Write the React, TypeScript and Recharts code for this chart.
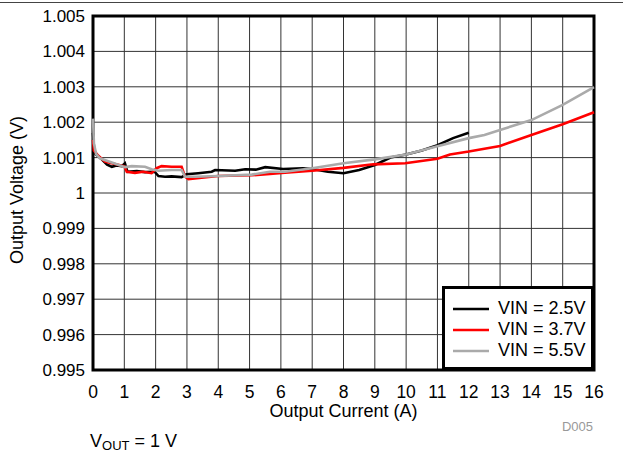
import React from "react";
import { LineChart, Line, XAxis, YAxis, CartesianGrid, ReferenceArea, Label } from "recharts";

const xTicks = [0, 1, 2, 3, 4, 5, 6, 7, 8, 9, 10, 11, 12, 13, 14, 15, 16];
const yTicks = [0.995, 0.996, 0.997, 0.998, 0.999, 1, 1.001, 1.002, 1.003, 1.004, 1.005];

const vin25 = [
  { x: 0, v: 1.0017 }, { x: 0.03, v: 1.0013 }, { x: 0.08, v: 1.0011 }, { x: 0.28, v: 1.00095 },
  { x: 0.45, v: 1.0008 }, { x: 0.6, v: 1.00074 }, { x: 0.75, v: 1.00078 }, { x: 0.92, v: 1.00076 },
  { x: 1.02, v: 1.00084 }, { x: 1.1, v: 1.0006 }, { x: 1.4, v: 1.00062 }, { x: 1.66, v: 1.00059 },
  { x: 1.97, v: 1.0006 }, { x: 2.09, v: 1.00048 }, { x: 2.3, v: 1.00046 }, { x: 2.51, v: 1.00047 },
  { x: 2.83, v: 1.00045 }, { x: 2.99, v: 1.00053 }, { x: 3.36, v: 1.00056 }, { x: 3.79, v: 1.0006 },
  { x: 3.9, v: 1.00065 }, { x: 4.54, v: 1.00063 }, { x: 4.86, v: 1.00067 }, { x: 5.2, v: 1.00066 },
  { x: 5.5, v: 1.00073 }, { x: 6.07, v: 1.00068 }, { x: 6.7, v: 1.0007 }, { x: 7.0, v: 1.00068 },
  { x: 7.5, v: 1.0006 }, { x: 8.0, v: 1.00056 }, { x: 8.5, v: 1.00065 }, { x: 9.0, v: 1.00079 },
  { x: 9.5, v: 1.001 }, { x: 10, v: 1.00109 }, { x: 10.5, v: 1.0012 }, { x: 11, v: 1.00135 },
  { x: 11.5, v: 1.00155 }, { x: 12, v: 1.0017 },
];

const vin37 = [
  { x: 0, v: 1.0015 }, { x: 0.03, v: 1.0012 }, { x: 0.17, v: 1.00105 }, { x: 0.38, v: 1.00089 },
  { x: 0.8, v: 1.0008 }, { x: 1.0, v: 1.00075 }, { x: 1.08, v: 1.0006 }, { x: 1.34, v: 1.00057 },
  { x: 1.6, v: 1.0006 }, { x: 1.87, v: 1.00056 }, { x: 2.03, v: 1.0007 }, { x: 2.19, v: 1.00076 },
  { x: 2.51, v: 1.00074 }, { x: 2.83, v: 1.00074 }, { x: 2.94, v: 1.00046 }, { x: 3.05, v: 1.00039 },
  { x: 3.47, v: 1.00043 }, { x: 4.0, v: 1.00048 }, { x: 5.07, v: 1.0005 }, { x: 5.65, v: 1.00054 },
  { x: 6.13, v: 1.00057 }, { x: 7, v: 1.00063 }, { x: 8, v: 1.00071 }, { x: 8.95, v: 1.00081 },
  { x: 9.97, v: 1.00084 }, { x: 11, v: 1.00097 }, { x: 11.4, v: 1.00109 }, { x: 12, v: 1.00117 },
  { x: 13, v: 1.00133 }, { x: 14, v: 1.00164 }, { x: 15, v: 1.00194 }, { x: 16, v: 1.00228 },
];

const vin55 = [
  { x: 0, v: 1.0021 }, { x: 0.03, v: 1.0014 }, { x: 0.1, v: 1.0011 }, { x: 0.22, v: 1.00098 },
  { x: 0.6, v: 1.00086 }, { x: 1.02, v: 1.00073 }, { x: 1.24, v: 1.00076 }, { x: 1.66, v: 1.00074 },
  { x: 1.87, v: 1.00067 }, { x: 2.09, v: 1.00063 }, { x: 2.51, v: 1.00065 }, { x: 2.83, v: 1.00065 },
  { x: 2.94, v: 1.00046 }, { x: 3.26, v: 1.00046 }, { x: 4.0, v: 1.00048 }, { x: 5.07, v: 1.00052 },
  { x: 5.65, v: 1.0006 }, { x: 6.13, v: 1.0006 }, { x: 7, v: 1.0007 }, { x: 8, v: 1.00084 },
  { x: 9, v: 1.00095 }, { x: 10, v: 1.00109 }, { x: 11, v: 1.00132 }, { x: 12, v: 1.00155 },
  { x: 12.5, v: 1.00164 }, { x: 13, v: 1.00178 }, { x: 14, v: 1.00206 }, { x: 15, v: 1.00249 },
  { x: 16, v: 1.00299 },
];

const series = [
  { name: "VIN = 2.5V", data: vin25, color: "#000000" },
  { name: "VIN = 3.7V", data: vin37, color: "#ff0000" },
  { name: "VIN = 5.5V", data: vin55, color: "#aaaaaa" },
];

const FONT = "'Liberation Sans', Arial, sans-serif";

const fmtY = (v: number) => (Math.abs(v - 1) < 1e-9 ? "1" : v.toFixed(3));

export default function App() {
  return (
    <div style={{ position: "absolute", left: 0, top: 0, width: 623, height: 454, fontFamily: FONT, background: "#fff" }}>
      <div style={{ position: "absolute", left: 0, top: 2, width: 623, height: 1, background: "#444" }} />
      <LineChart width={623} height={454} margin={{ top: 16, right: 29, bottom: 54, left: 0 }}>
        <CartesianGrid stroke="#333" strokeWidth={1} />
        <XAxis
          dataKey="x"
          type="number"
          domain={[0, 16]}
          ticks={xTicks}
          allowDuplicatedCategory={false}
          height={30}
          tickLine={false}
          axisLine={false}
          tick={{ fill: "#000", fontSize: 17.5, fontFamily: FONT }}
          tickMargin={10}
          interval={0}
        >
          <Label value="Output Current (A)" position="bottom" offset={4} fill="#000" fontSize={18} fontFamily={FONT} />
        </XAxis>
        <YAxis
          type="number"
          domain={[0.995, 1.005]}
          ticks={yTicks}
          width={93}
          tickLine={false}
          axisLine={false}
          tickFormatter={fmtY}
          tick={{ fill: "#000", fontSize: 17, fontFamily: FONT }}
          interval={0}
        >
          <Label
            content={() => (
              <text x={23} y={190} transform="rotate(-90 23 190)" textAnchor="middle" fill="#000" fontSize={18} fontFamily={FONT}>
                Output Voltage (V)
              </text>
            )}
          />
        </YAxis>
        {series.map((s) => (
          <Line
            key={s.name}
            data={s.data}
            dataKey="v"
            name={s.name}
            type="linear"
            stroke={s.color}
            strokeWidth={2.6}
            dot={false}
            isAnimationActive={false}
          />
        ))}
        <ReferenceArea x1={0} x2={16} y1={0.995} y2={1.005} fill="none" stroke="#000" strokeWidth={3} ifOverflow="visible" />
      </LineChart>
      <div
        style={{
          position: "absolute",
          left: 442,
          top: 286,
          width: 152,
          height: 84,
          boxSizing: "border-box",
          border: "3px solid #000",
          background: "#fff",
          paddingTop: 9,
          paddingLeft: 8,
        }}
      >
        {series.map((s) => (
          <div key={s.name} style={{ display: "flex", alignItems: "center", height: 21 }}>
            <svg width={36} height={6} style={{ marginRight: 9 }}>
              <line x1={0} y1={3} x2={36} y2={3} stroke={s.color} strokeWidth={2.6} />
            </svg>
            <span style={{ fontSize: 18, color: "#000", lineHeight: "21px" }}>{s.name}</span>
          </div>
        ))}
      </div>
      <div style={{ position: "absolute", right: 30, top: 419, fontSize: 13, color: "#999" }}>D005</div>
      <div style={{ position: "absolute", left: 90, top: 431, fontSize: 18, lineHeight: "20px", color: "#000", whiteSpace: "nowrap" }}>
        V<sub style={{ fontSize: 13, verticalAlign: "-3px", lineHeight: "13px" }}>OUT</sub> = 1 V
      </div>
    </div>
  );
}
